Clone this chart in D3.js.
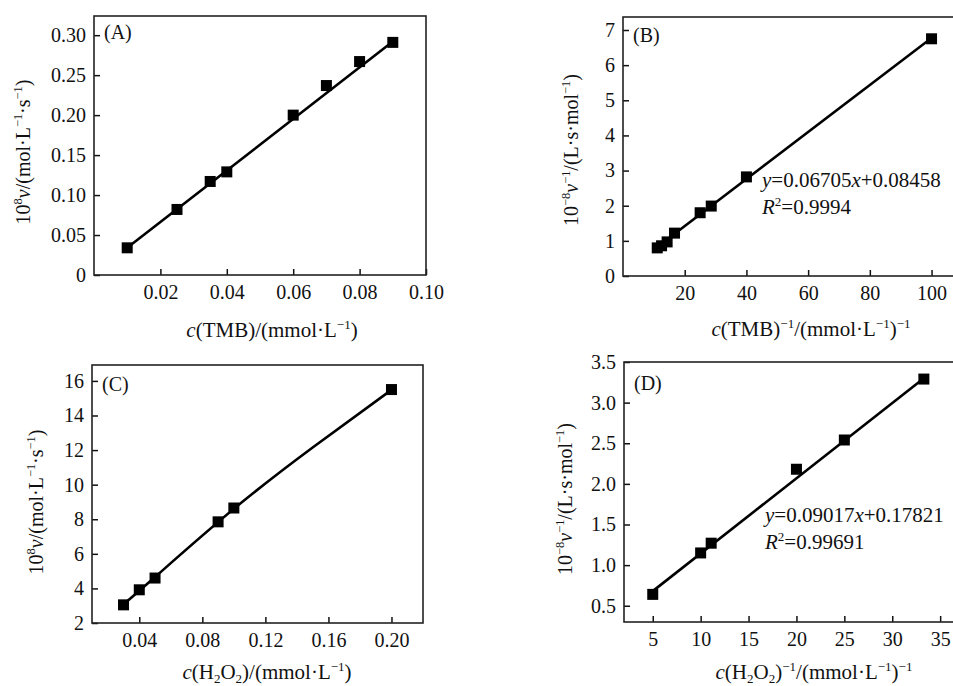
<!DOCTYPE html>
<html>
<head>
<meta charset="utf-8">
<script src="https://cdn.jsdelivr.net/npm/d3@7"></script>
<style>
  html, body { margin: 0; padding: 0; background: #fff; }
  svg { display: block; }
  text { font-family: "Liberation Serif", "Times New Roman", serif; fill: #111; }
</style>
</head>
<body>
<svg id="chart" width="953" height="686"></svg>
<script>
// ---------------- DATA ----------------
// Panel A: v vs c(TMB)
const aX = [0.010, 0.025, 0.035, 0.040, 0.060, 0.070, 0.080, 0.090];
const aY = [0.034, 0.082, 0.117, 0.129, 0.200, 0.237, 0.267, 0.291];
const aFit = [[0.010, 0.034], [0.090, 0.292]];
const aXTicks = [0.02, 0.04, 0.06, 0.08, 0.10];
const aYTicks = [0, 0.05, 0.10, 0.15, 0.20, 0.25, 0.30];
const aXLabels = ["0.02", "0.04", "0.06", "0.08", "0.10"];
const aYLabels = ["0", "0.05", "0.10", "0.15", "0.20", "0.25", "0.30"];

// Panel B: Lineweaver-Burk, TMB
const bX = [11.1, 12.5, 14.3, 16.7, 25, 28.6, 40, 100];
const bY = [0.80, 0.86, 0.97, 1.22, 1.80, 1.99, 2.82, 6.75];
const bFit = [[11.0, 0.82], [100, 6.77]];
const bXTicks = [20, 40, 60, 80, 100];
const bYTicks = [0, 1, 2, 3, 4, 5, 6, 7];
const bEquation = "0.06705";
const bIntercept = "0.08458";
const bR2 = "0.9994";

// Panel C: v vs c(H2O2)
const cX = [0.03, 0.04, 0.05, 0.09, 0.10, 0.20];
const cY = [3.05, 3.92, 4.60, 7.85, 8.65, 15.50];
const cCurveX = [0.030, 0.050, 0.100, 0.150, 0.200];
const cCurveY = [3.08, 4.66, 8.60, 12.15, 15.48];
const cXTicks = [0.04, 0.08, 0.12, 0.16, 0.20];
const cYTicks = [2, 4, 6, 8, 10, 12, 14, 16];
const cXLabels = ["0.04", "0.08", "0.12", "0.16", "0.20"];

// Panel D: Lineweaver-Burk, H2O2
const dX = [5, 10, 11.1, 20, 25, 33.3];
const dY = [0.64, 1.15, 1.27, 2.18, 2.54, 3.29];
const dFit = [[5, 0.68], [33.3, 3.30]];
const dXTicks = [5, 10, 15, 20, 25, 30, 35];
const dYTicks = [0.5, 1.0, 1.5, 2.0, 2.5, 3.0, 3.5];
const dYLabels = ["0.5", "1.0", "1.5", "2.0", "2.5", "3.0", "3.5"];
const dEquation = "0.09017";
const dIntercept = "0.17821";
const dR2 = "0.99691";

// ---------------- DRAWING ----------------
const svg = d3.select("#chart");
const FONT = 19;
const TFONT = 21;

// rich text helper: segments [text, style] where style in {"", "i", "sup", "sub"}
function rich(sel, segs, size) {
  let shift = 0;
  segs.forEach(([t, st]) => {
    const ts = sel.append("tspan").text(t);
    let target = 0;
    if (st.includes("sup")) target = -0.38 * size;
    if (st.includes("sub")) target = 0.2 * size;
    ts.attr("dy", target - shift);
    shift = target;
    if (st.includes("sup") || st.includes("sub")) ts.attr("font-size", size * 0.62);
    if (st.includes("i")) ts.attr("font-style", "italic");
  });
}

function panel(cfg) {
  const g = svg.append("g");
  const x = d3.scaleLinear().domain(cfg.xDom).range([cfg.left, cfg.right]);
  const y = d3.scaleLinear().domain(cfg.yDom).range([cfg.bottom, cfg.top]);

  const xa = d3.axisBottom(x).tickValues(cfg.xTicks).tickSizeInner(-6).tickSizeOuter(0).tickPadding(10)
    .tickFormat((d, i) => cfg.xLabels ? cfg.xLabels[i] : d);
  const ya = d3.axisLeft(y).tickValues(cfg.yTicks).tickSizeInner(-6).tickSizeOuter(0).tickPadding(8)
    .tickFormat((d, i) => cfg.yLabels ? cfg.yLabels[i] : d);

  const gx = g.append("g").attr("transform", `translate(0,${cfg.bottom})`).call(xa);
  const gy = g.append("g").attr("transform", `translate(${cfg.left},0)`).call(ya);
  [gx, gy].forEach(a => {
    a.select(".domain").remove();
    a.selectAll("line").attr("stroke", "#111").attr("stroke-width", 1.5);
    a.selectAll("text").attr("font-size", FONT + 1).attr("font-family", '"Liberation Serif", serif').attr("fill", "#111");
  });

  // frame
  g.append("rect")
    .attr("x", cfg.left).attr("y", cfg.top)
    .attr("width", cfg.right - cfg.left).attr("height", cfg.bottom - cfg.top)
    .attr("fill", "none").attr("stroke", "#222").attr("stroke-width", 1.6);

  // line
  const line = d3.line().x(d => x(d[0])).y(d => y(d[1])).curve(cfg.curve || d3.curveLinear);
  g.append("path").datum(cfg.line).attr("d", line)
    .attr("fill", "none").attr("stroke", "#000").attr("stroke-width", 2.6);

  // markers
  const s = 11;
  g.selectAll("rect.pt").data(cfg.px.map((v, i) => [v, cfg.py[i]])).enter()
    .append("rect").attr("class", "pt")
    .attr("x", d => x(d[0]) - s / 2).attr("y", d => y(d[1]) - s / 2)
    .attr("width", s).attr("height", s).attr("fill", "#000");

  // panel label
  g.append("text").attr("x", cfg.lab[0]).attr("y", cfg.lab[1]).attr("font-size", 20).text(cfg.label);

  // x title
  const xt = g.append("text").attr("x", cfg.xt[0]).attr("y", cfg.xt[1])
    .attr("text-anchor", "middle").attr("font-size", TFONT);
  rich(xt, cfg.xTitle, TFONT);
  // y title
  const yt = g.append("text").attr("transform", `translate(${cfg.yt[0]},${cfg.yt[1]}) rotate(-90)`)
    .attr("text-anchor", "middle").attr("font-size", 20);
  rich(yt, cfg.yTitle, 20);

  if (cfg.eq) {
    const e1 = g.append("text").attr("x", cfg.eq[0]).attr("y", cfg.eq[1]).attr("font-size", TFONT);
    rich(e1, [["y", "i"], ["=" + cfg.eqSlope, ""], ["x", "i"], ["+" + cfg.eqInt, ""]], TFONT);
    const e2 = g.append("text").attr("x", cfg.eq[0]).attr("y", cfg.eq[1] + 27).attr("font-size", TFONT);
    rich(e2, [["R", "i"], ["2", "sup"], ["=" + cfg.r2, ""]], TFONT);
  }
}

const yTitleV = [["10", ""], ["8", "sup"], ["v", "i"], ["/(mol·L", ""], ["−1", "sup"], ["·s", ""], ["−1", "sup"], [")", ""]];
const yTitleInv = [["10", ""], ["−8", "sup"], ["v", "i"], ["−1", "sup"], ["/(L·s·mol", ""], ["−1", "sup"], [")", ""]];

panel({
  left: 94, right: 426, top: 16, bottom: 275,
  xDom: [0, 0.10], yDom: [0, 0.324],
  xTicks: aXTicks, yTicks: aYTicks, xLabels: aXLabels, yLabels: aYLabels,
  px: aX, py: aY, line: aFit,
  label: "(A)", lab: [104, 39],
  xt: [272, 337], xTitle: [["c", "i"], ["(TMB)/(mmol·L", ""], ["−1", "sup"], [")", ""]],
  yt: [30, 152], yTitle: yTitleV
});

panel({
  left: 623, right: 955, top: 17, bottom: 276,
  xDom: [0, 107.6], yDom: [0, 7.37],
  xTicks: bXTicks, yTicks: bYTicks,
  px: bX, py: bY, line: bFit,
  label: "(B)", lab: [633, 42],
  xt: [811, 336], xTitle: [["c", "i"], ["(TMB)", ""], ["−1", "sup"], ["/(mmol·L", ""], ["−1", "sup"], [")", ""], ["−1", "sup"]],
  yt: [578, 150], yTitle: yTitleInv,
  eq: [762, 187], eqSlope: bEquation, eqInt: bIntercept, r2: bR2
});

panel({
  left: 92, right: 423, top: 365, bottom: 623,
  xDom: [0.01, 0.22], yDom: [2, 16.92],
  xTicks: cXTicks, yTicks: cYTicks, xLabels: cXLabels,
  px: cX, py: cY, line: cCurveX.map((v, i) => [v, cCurveY[i]]), curve: d3.curveNatural,
  label: "(C)", lab: [102, 391],
  xt: [267, 679], xTitle: [["c", "i"], ["(H", ""], ["2", "sub"], ["O", ""], ["2", "sub"], [")/(mmol·L", ""], ["−1", "sup"], [")", ""]],
  yt: [43, 502], yTitle: yTitleV
});

panel({
  left: 624, right: 955, top: 362, bottom: 622,
  xDom: [2, 36.55], yDom: [0.3, 3.5],
  xTicks: dXTicks, yTicks: dYTicks, yLabels: dYLabels,
  px: dX, py: dY, line: dFit,
  label: "(D)", lab: [634, 390],
  xt: [814, 679], xTitle: [["c", "i"], ["(H", ""], ["2", "sub"], ["O", ""], ["2", "sub"], [")", ""], ["−1", "sup"], ["/(mmol·L", ""], ["−1", "sup"], [")", ""], ["−1", "sup"]],
  yt: [572, 499], yTitle: yTitleInv,
  eq: [765, 522], eqSlope: dEquation, eqInt: dIntercept, r2: dR2
});
</script>
</body>
</html>
